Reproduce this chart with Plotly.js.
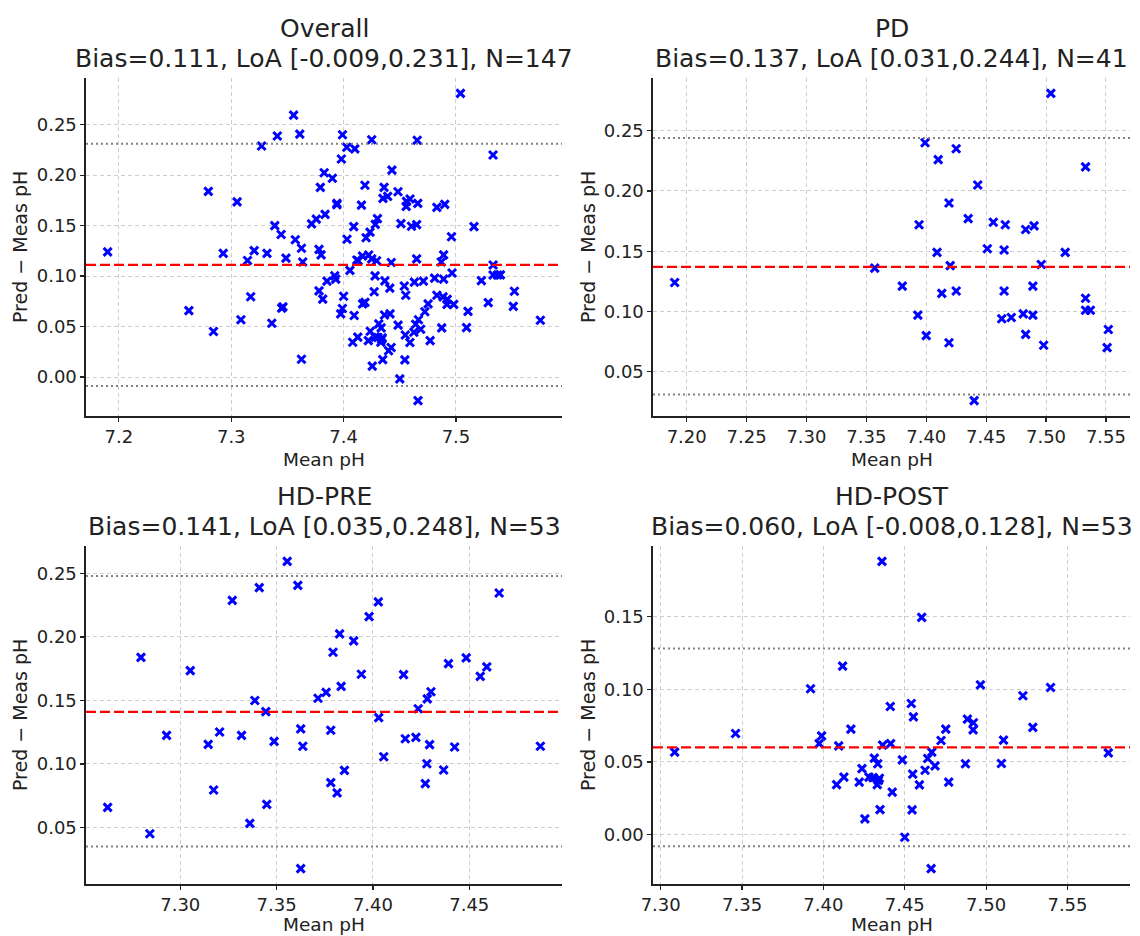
<!DOCTYPE html>
<html>
<head>
<meta charset="utf-8">
<script src="https://cdn.plot.ly/plotly-3.0.1.min.js"></script>
<style>html,body{margin:0;padding:0;background:#fff;}#chart{width:1140px;height:936px;}</style>
</head>
<body>
<div id="chart"></div>
<script>
// ---- data ----
const pdX = [7.190, 7.357, 7.504, 7.399, 7.425, 7.410, 7.533, 7.443, 7.419, 7.435, 7.394, 7.456, 7.466, 7.483, 7.490, 7.409, 7.451, 7.465, 7.516, 7.420, 7.496, 7.380, 7.413, 7.425, 7.465, 7.489, 7.533, 7.533, 7.537, 7.393, 7.463, 7.471, 7.481, 7.489, 7.400, 7.483, 7.552, 7.419, 7.498, 7.551, 7.440];
const pdY = [0.124, 0.136, 0.281, 0.240, 0.235, 0.226, 0.220, 0.205, 0.190, 0.177, 0.172, 0.174, 0.172, 0.168, 0.171, 0.149, 0.152, 0.151, 0.149, 0.138, 0.139, 0.121, 0.115, 0.117, 0.117, 0.121, 0.111, 0.101, 0.101, 0.097, 0.094, 0.095, 0.098, 0.097, 0.080, 0.081, 0.085, 0.074, 0.072, 0.070, 0.026];

const preX = [7.3555, 7.341, 7.361, 7.327, 7.2796, 7.3052, 7.3793, 7.3387, 7.3444, 7.3715, 7.3757, 7.2929, 7.3145, 7.3204, 7.3318, 7.3487, 7.3625, 7.3636, 7.3781, 7.3781, 7.3814, 7.3173, 7.2623, 7.2842, 7.3449, 7.3361, 7.3625, 7.3827, 7.390, 7.398, 7.4028, 7.4655, 7.394, 7.3835, 7.4159, 7.4392, 7.4484, 7.4557, 7.4591, 7.4301, 7.4282, 7.4235, 7.403, 7.4168, 7.4223, 7.4294, 7.4424, 7.4869, 7.4056, 7.428, 7.4367, 7.3852, 7.4272];
const preY = [0.2595, 0.2388, 0.2406, 0.2288, 0.1839, 0.1735, 0.1879, 0.150, 0.1412, 0.1517, 0.1564, 0.1225, 0.1154, 0.1252, 0.1225, 0.1178, 0.1276, 0.1139, 0.1265, 0.0853, 0.0772, 0.0795, 0.0658, 0.0451, 0.0682, 0.0532, 0.0176, 0.2024, 0.1969, 0.216, 0.2276, 0.2346, 0.1706, 0.1611, 0.1703, 0.179, 0.1835, 0.169, 0.1764, 0.1569, 0.1512, 0.1435, 0.1365, 0.1199, 0.1209, 0.1152, 0.1134, 0.1139, 0.1057, 0.1002, 0.0953, 0.095, 0.0845];

const postX = [7.3086, 7.346, 7.3921, 7.4118, 7.4169, 7.3974, 7.3989, 7.4094, 7.4081, 7.4126, 7.4237, 7.422, 7.4255, 7.428, 7.436, 7.4604, 7.4965, 7.5396, 7.5226, 7.4411, 7.454, 7.4553, 7.4885, 7.4922, 7.492, 7.4752, 7.4723, 7.5287, 7.5107, 7.5751, 7.4413, 7.4364, 7.4666, 7.4641, 7.4313, 7.4334, 7.4485, 7.4686, 7.4873, 7.5094, 7.4625, 7.4549, 7.4305, 7.4344, 7.4331, 7.459, 7.477, 7.4423, 7.4348, 7.4545, 7.45, 7.4662, 7.4338];
const postY = [0.0567, 0.0695, 0.1003, 0.1159, 0.0725, 0.0626, 0.0679, 0.061, 0.0344, 0.0395, 0.0454, 0.0361, 0.0108, 0.0395, 0.1879, 0.1494, 0.103, 0.1012, 0.0955, 0.0881, 0.0902, 0.081, 0.0794, 0.0769, 0.072, 0.0725, 0.0647, 0.0737, 0.065, 0.0562, 0.0626, 0.0615, 0.0567, 0.0523, 0.0526, 0.0487, 0.0514, 0.0473, 0.0487, 0.0489, 0.0443, 0.0416, 0.0392, 0.0388, 0.0344, 0.0342, 0.0361, 0.0292, 0.0172, 0.017, -0.0018, -0.0234, 0.0372];

const panelNames = ["Overall", "PD", "HD-PRE", "HD-POST"];
const biasVals = [0.111, 0.137, 0.141, 0.060];
const loaLow = [-0.009, 0.031, 0.035, -0.008];
const loaHigh = [0.231, 0.244, 0.248, 0.128];
const nVals = [147, 41, 53, 53];

const xTitle = "Mean pH";
const yTitle = "Pred \u2212 Meas pH";

// ---- build ----
const allX = pdX.concat(preX, postX);
const allY = pdY.concat(preY, postY);
const series = [[allX, allY], [pdX, pdY], [preX, preY], [postX, postY]];

const W = 1140, H = 936;
const colPx = [[86, 562], [653, 1130]];
const rowPx = [[78, 416], [546, 884]];
const fontFam = "DejaVu Sans, Verdana, sans-serif";
const ink = "#222222";

function padRange(a) {
  const mn = Math.min(...a), mx = Math.max(...a), s = mx - mn;
  return [mn - 0.05 * s, mx + 0.05 * s];
}

const traces = [], shapes = [], annotations = [];
const layout = {
  width: W, height: H,
  margin: {l: 0, r: 0, t: 0, b: 0},
  paper_bgcolor: "#fff", plot_bgcolor: "#fff",
  showlegend: false,
  font: {family: fontFam, color: ink}
};

const xDt = [0.1, 0.05, 0.05, 0.05];
const xFmt = [".1f", ".2f", ".2f", ".2f"];

series.forEach((s, i) => {
  const col = i % 2, row = Math.floor(i / 2);
  const sfx = i === 0 ? "" : String(i + 1);
  const xa = "xaxis" + sfx, ya = "yaxis" + sfx;
  const xid = "x" + sfx, yid = "y" + sfx;
  const common = {
    showline: true, linecolor: ink, linewidth: 1.6, mirror: false,
    ticks: "outside", ticklen: 4, tickwidth: 1.2, tickcolor: ink,
    showgrid: true, gridcolor: "#cfcfcf", gridwidth: 1, griddash: "4px,3px",
    zeroline: false, tickfont: {family: fontFam, size: 18, color: ink},
    fixedrange: true
  };
  layout[xa] = Object.assign({}, common, {
    domain: [colPx[col][0] / W, colPx[col][1] / W],
    anchor: yid, range: padRange(s[0]),
    tick0: 7.2, dtick: xDt[i], tickformat: xFmt[i]
  });
  layout[ya] = Object.assign({}, common, {
    domain: [1 - rowPx[row][1] / H, 1 - rowPx[row][0] / H],
    anchor: xid, range: padRange(s[1]),
    tick0: 0, dtick: 0.05, tickformat: ".2f"
  });
  traces.push({
    type: "scatter", mode: "markers", x: s[0], y: s[1], xaxis: xid, yaxis: yid,
    marker: {symbol: "x-thin-open", size: 8, color: "#0000ff", line: {color: "#0000ff", width: 3}},
    hoverinfo: "x+y"
  });
  const lines = [
    {v: biasVals[i], c: "#ff0000", d: "10px,4px", w: 2.2},
    {v: loaLow[i], c: "#808080", d: "2px,3px", w: 2},
    {v: loaHigh[i], c: "#808080", d: "2px,3px", w: 2}
  ];
  lines.forEach(l => shapes.push({
    type: "line", xref: xid + " domain", yref: yid, x0: 0, x1: 1, y0: l.v, y1: l.v,
    line: {color: l.c, width: l.w, dash: l.d}, layer: "above"
  }));
  const cx = (colPx[col][0] + colPx[col][1]) / 2 / W;
  const top = rowPx[row][0], bot = rowPx[row][1];
  annotations.push({
    xref: "paper", yref: "paper", x: cx, y: 1 - (top - 50) / H, xanchor: "center", yanchor: "middle",
    text: panelNames[i], showarrow: false, font: {size: 25, color: ink, family: fontFam}
  });
  annotations.push({
    xref: "paper", yref: "paper", x: cx, y: 1 - (top - 20) / H, xanchor: "center", yanchor: "middle",
    text: "Bias=" + biasVals[i].toFixed(3) + ", LoA [" + loaLow[i].toFixed(3) + "," + loaHigh[i].toFixed(3) + "], N=" + nVals[i],
    showarrow: false, font: {size: 25, color: ink, family: fontFam}
  });
  annotations.push({
    xref: "paper", yref: "paper", x: cx, y: 1 - (bot + (row === 0 ? 43 : 40)) / H, xanchor: "center", yanchor: "middle",
    text: xTitle, showarrow: false, font: {size: 18.5, color: ink, family: fontFam}
  });
  annotations.push({
    xref: "paper", yref: "paper", x: (col === 0 ? 20 : 588) / W, y: 1 - (top + bot) / 2 / H,
    xanchor: "center", yanchor: "middle", textangle: -90,
    text: yTitle, showarrow: false, font: {size: 19, color: ink, family: fontFam}
  });
});

layout.shapes = shapes;
layout.annotations = annotations;
Plotly.newPlot("chart", traces, layout, {displayModeBar: false, staticPlot: true});
</script>
</body>
</html>
